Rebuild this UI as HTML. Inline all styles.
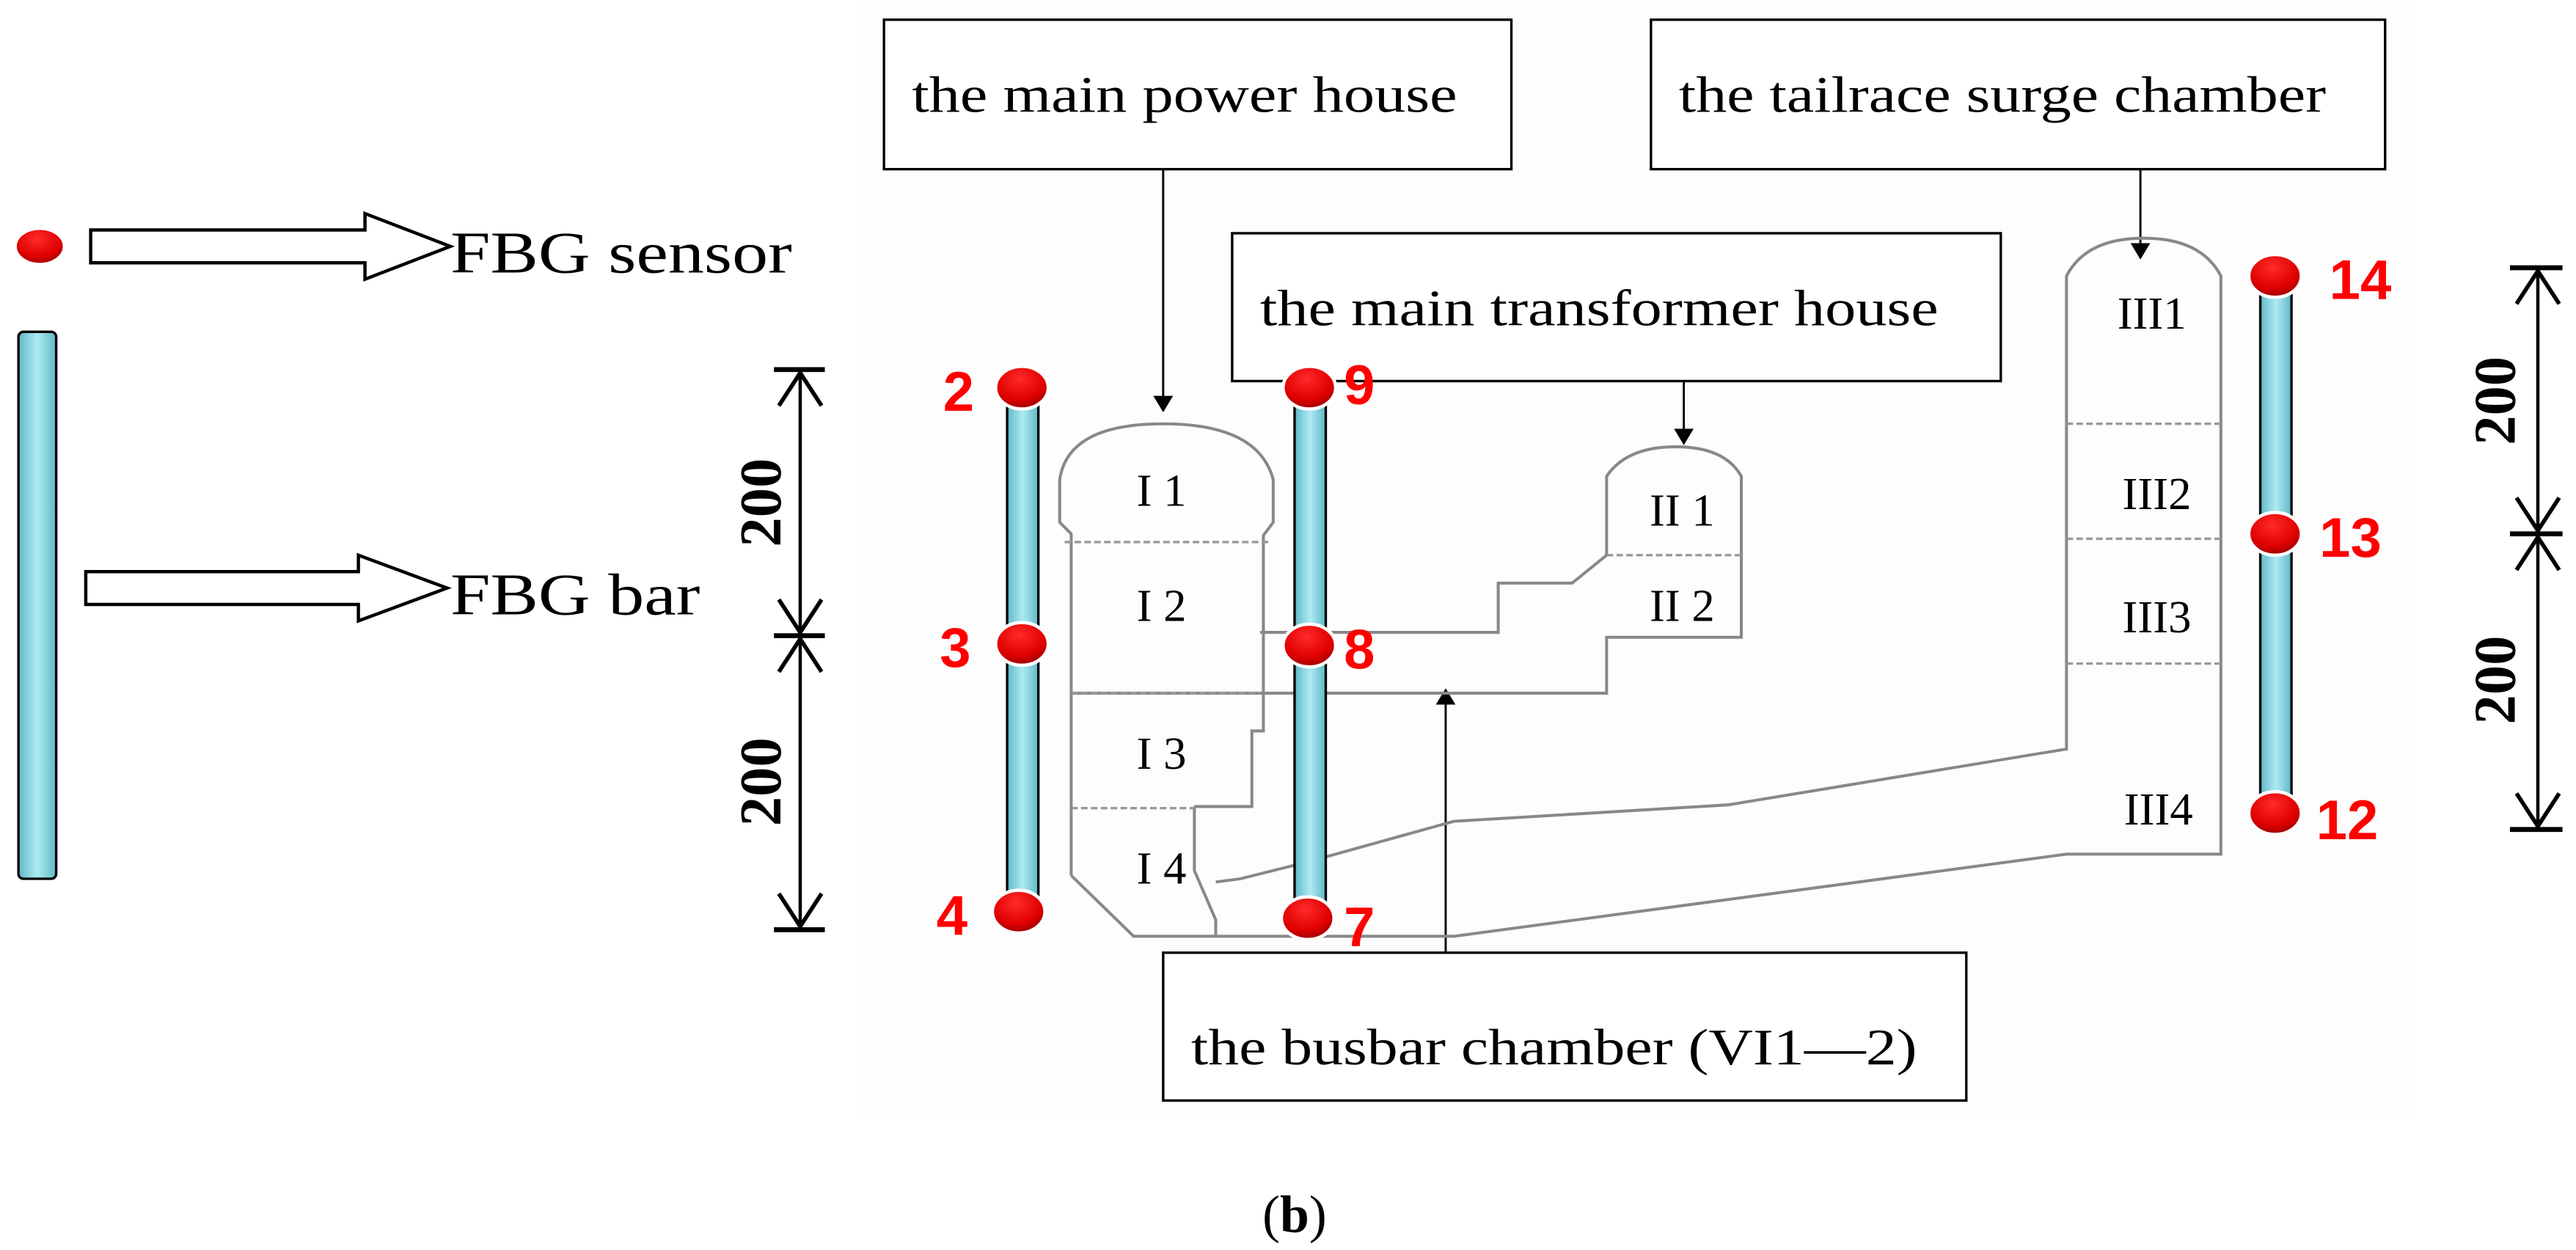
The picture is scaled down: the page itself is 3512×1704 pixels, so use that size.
<!DOCTYPE html>
<html><head><style>html,body{margin:0;padding:0;background:#fff}svg{display:block}</style></head><body>
<svg width="3512" height="1704" viewBox="0 0 1568 761" xmlns="http://www.w3.org/2000/svg" font-family="'Liberation Serif',serif">
<defs>
<linearGradient id="bar" x1="0" x2="1"><stop offset="0" stop-color="#5fb8c8"/><stop offset="0.5" stop-color="#aeeaf2"/><stop offset="1" stop-color="#5fb8c8"/></linearGradient>
<radialGradient id="dot" cx="0.45" cy="0.3" r="0.8"><stop offset="0" stop-color="#ff2a2a"/><stop offset="0.6" stop-color="#e00000"/><stop offset="1" stop-color="#800000"/></radialGradient>
<marker id="ah" markerWidth="10" markerHeight="12" refX="9" refY="6" orient="auto" markerUnits="userSpaceOnUse"><path d="M0,0 L10,6 L0,12 z" fill="#000"/></marker>
<marker id="oh" markerWidth="24" markerHeight="30" refX="22" refY="15" orient="auto-start-reverse" markerUnits="userSpaceOnUse"><path d="M2,2 L22,15 L2,28" fill="none" stroke="#000" stroke-width="2.5"/></marker>
</defs>
<rect x="525" y="0" width="945" height="680" fill="#fdfdfd"/>
<g fill="#fff" stroke="#000" stroke-width="1.5">
<rect x="538" y="12" width="382" height="91"/>
<rect x="1005" y="12" width="447" height="91"/>
<rect x="750" y="142" width="468" height="90"/>
<rect x="708" y="580" width="489" height="90"/>
</g>
<g font-size="31" fill="#000" lengthAdjust="spacingAndGlyphs">
<text x="555" y="68" textLength="332" lengthAdjust="spacingAndGlyphs">the main power house</text>
<text x="1022" y="68" textLength="394" lengthAdjust="spacingAndGlyphs">the tailrace surge chamber</text>
<text x="767" y="198" textLength="413" lengthAdjust="spacingAndGlyphs">the main transformer house</text>
<text x="725" y="648" textLength="442" lengthAdjust="spacingAndGlyphs">the busbar chamber (VI1—2)</text>
</g>
<g stroke="#000" stroke-width="1.3">
<line x1="708" y1="103" x2="708" y2="250" marker-end="url(#ah)"/>
<line x1="1303" y1="103" x2="1303" y2="157" marker-end="url(#ah)"/>
<line x1="1025" y1="232" x2="1025" y2="270" marker-end="url(#ah)"/>
<line x1="880" y1="580" x2="880" y2="420" marker-end="url(#ah)"/>
</g>
<g fill="none" stroke="#888" stroke-width="1.8">
<path d="M652,533 L652,325 L645,318 L645,292 Q650,258 708,258 Q766,258 775,292 L775,318 L769,326 L769,445 L762,445 L762,491 L727,491"/>
<path d="M652,533 L690,570 L885,570 L1258,520 L1352,520 L1352,168 Q1340,145 1305,145 Q1270,145 1258,168 L1258,456 L1052,490 L885,500 L795,525 L755,535 L740,537"/>
<path d="M727,491 L727,530 L740,560 L740,570"/>
<path d="M652,422 L978,422 L978,388 L1060,388 L1060,290 Q1050,272 1020,272 Q990,272 978,290 L978,338 L957,355 L912,355 L912,385 L767,385"/>
</g>
<g stroke="#999" stroke-width="1.5" stroke-dasharray="4,2">
<line x1="648" y1="330" x2="773" y2="330"/>
<line x1="652" y1="422" x2="767" y2="422"/>
<line x1="652" y1="492" x2="727" y2="492"/>
<line x1="978" y1="338" x2="1060" y2="338"/>
<line x1="1258" y1="258" x2="1352" y2="258"/>
<line x1="1258" y1="328" x2="1352" y2="328"/>
<line x1="1258" y1="404" x2="1352" y2="404"/>
</g>
<g font-size="28" fill="#000" text-anchor="middle">
<text x="707" y="308">I 1</text><text x="707" y="378">I 2</text><text x="707" y="468">I 3</text><text x="707" y="538">I 4</text>
<text x="1024" y="320">II 1</text><text x="1024" y="378">II 2</text>
<text x="1310" y="200">III1</text><text x="1313" y="310">III2</text><text x="1313" y="385">III3</text><text x="1314" y="502">III4</text>
</g>
<g stroke="#000" stroke-width="1.5" fill="url(#bar)">
<rect x="11" y="202" width="23" height="333" rx="3"/>
<rect x="613" y="240" width="19" height="312"/>
<rect x="788" y="240" width="19" height="316"/>
<rect x="1376" y="172" width="19" height="320"/>
</g>
<g fill="url(#dot)" stroke="#fff" stroke-width="2">
<ellipse cx="24" cy="150" rx="15" ry="11"/>
<ellipse cx="622" cy="236" rx="16" ry="13"/><ellipse cx="622" cy="392" rx="16" ry="13"/><ellipse cx="620" cy="555" rx="16" ry="13"/>
<ellipse cx="797" cy="236" rx="16" ry="13"/><ellipse cx="797" cy="393" rx="16" ry="13"/><ellipse cx="796" cy="559" rx="16" ry="13"/>
<ellipse cx="1385" cy="168" rx="16" ry="13"/><ellipse cx="1385" cy="325" rx="16" ry="13"/><ellipse cx="1385" cy="495" rx="16" ry="13"/>
</g>
<g font-family="'Liberation Sans',sans-serif" font-weight="bold" font-size="34" fill="#f00">
<text x="574" y="250">2</text><text x="572" y="406">3</text><text x="570" y="569">4</text>
<text x="818" y="246">9</text><text x="818" y="407">8</text><text x="818" y="576">7</text>
<text x="1418" y="182">14</text><text x="1412" y="339">13</text><text x="1410" y="511">12</text>
</g>
<g fill="#fff" stroke="#000" stroke-width="2">
<path d="M55,140 L222,140 L222,130 L274,150 L222,170 L222,160 L55,160 z"/>
<path d="M52,348 L218,348 L218,338 L272,358 L218,378 L218,368 L52,368 z"/>
</g>
<g font-size="36" fill="#000">
<text x="274" y="166" textLength="208" lengthAdjust="spacingAndGlyphs">FBG sensor</text>
<text x="274" y="374" textLength="152" lengthAdjust="spacingAndGlyphs">FBG bar</text>
</g>
<g stroke="#000" stroke-width="3">
<line x1="471" y1="225" x2="502" y2="225"/><line x1="471" y1="387" x2="502" y2="387"/><line x1="471" y1="566" x2="502" y2="566"/>
<line x1="1528" y1="163" x2="1560" y2="163"/><line x1="1528" y1="325" x2="1560" y2="325"/><line x1="1528" y1="505" x2="1560" y2="505"/>
</g>
<g stroke="#000" stroke-width="2">
<line x1="487" y1="227" x2="487" y2="385" marker-end="url(#oh)" marker-start="url(#oh)"/>
<line x1="487" y1="389" x2="487" y2="564" marker-end="url(#oh)" marker-start="url(#oh)"/>
<line x1="1545" y1="165" x2="1545" y2="323" marker-end="url(#oh)" marker-start="url(#oh)"/>
<line x1="1545" y1="327" x2="1545" y2="503" marker-end="url(#oh)" marker-start="url(#oh)"/>
</g>
<g font-size="36" font-weight="bold" fill="#000" text-anchor="middle">
<text transform="translate(475,306) rotate(-90)">200</text>
<text transform="translate(475,476) rotate(-90)">200</text>
<text transform="translate(1531,244) rotate(-90)">200</text>
<text transform="translate(1531,414) rotate(-90)">200</text>
</g>
<text x="788" y="750" font-size="32" text-anchor="middle" fill="#000">(<tspan font-weight="bold">b</tspan>)</text>
</svg>
</body></html>
